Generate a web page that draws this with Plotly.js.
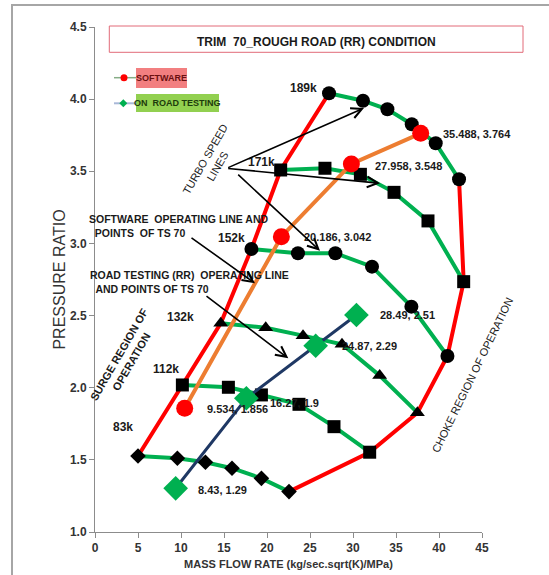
<!DOCTYPE html>
<html>
<head>
<meta charset="utf-8">
<script src="https://cdn.plot.ly/plotly-3.0.1.min.js"></script>
<style>html,body{margin:0;padding:0;background:#fff;}#chart{width:549px;height:575px;}</style>
</head>
<body>
<div id="chart"></div>
<script>
// ---- data ----
const xTickVals = [0, 5, 10, 15, 20, 25, 30, 35, 40, 45];
const yTickVals = [1.0, 1.5, 2.0, 2.5, 3.0, 3.5, 4.0, 4.5];

const speedNames = ["189k", "171k", "152k", "132k", "112k", "83k"];
const x189 = [27.21, 31.16, 34.00, 36.83, 39.62, 42.33];
const y189 = [4.041, 3.989, 3.930, 3.826, 3.694, 3.445];
const x171 = [21.59, 26.74, 30.86, 34.77, 38.72, 42.87];
const y171 = [3.509, 3.521, 3.479, 3.354, 3.156, 2.735];
const x152 = [18.19, 23.60, 27.95, 32.21, 36.79, 40.98];
const y152 = [2.962, 2.932, 2.932, 2.839, 2.562, 2.220];
const x132 = [14.62, 19.85, 24.19, 28.72, 33.10, 37.49];
const y132 = [2.447, 2.416, 2.361, 2.301, 2.084, 1.827];
const x112 = [10.16, 15.51, 19.35, 23.72, 27.79, 31.94];
const y112 = [2.019, 2.003, 1.950, 1.885, 1.730, 1.553];
const x83  = [5.00, 9.58, 12.84, 15.93, 19.35, 22.56];
const y83  = [1.527, 1.511, 1.483, 1.442, 1.372, 1.280];

const softwareX = [10.43, 21.67, 29.81, 37.87];
const softwareY = [1.858, 3.047, 3.551, 3.763];
const softwareLabels = ["9.534, 1.856", "20.186, 3.042", "27.958, 3.548", "35.488, 3.764"];

const roadX = [9.38, 17.60, 25.66, 30.40];
const roadY = [1.303, 1.927, 2.291, 2.504];
const roadLabels = ["8.43, 1.29", "16.27, 1.9", "24.87, 2.29", "28.49, 2.51"];

// ---- helpers (pixel -> paper) for decorations ----
const L = 95, R = 67, T = 27, B = 43, W = 549, H = 575;
const PW = W - L - R, PH = H - T - B;
const PX = p => (p - L) / PW;
const PY = p => (H - B - p) / PH;

const speeds = [
  {x: x189, y: y189, sym: "circle", size: 14},
  {x: x171, y: y171, sym: "square", size: 13},
  {x: x152, y: y152, sym: "circle", size: 14},
  {x: x132, y: y132, sym: "triangle-up", size: 13},
  {x: x112, y: y112, sym: "square", size: 13},
  {x: x83,  y: y83,  sym: "diamond", size: 12}
];

const traces = [];
// surge line through the first point of each speed line
traces.push({x: speeds.map(s => s.x[0]), y: speeds.map(s => s.y[0]), mode: "lines",
  line: {color: "#ff0000", width: 4}, hoverinfo: "skip"});
// choke line through the last point of each speed line
traces.push({x: speeds.map(s => s.x[s.x.length - 1]), y: speeds.map(s => s.y[s.y.length - 1]), mode: "lines",
  line: {color: "#ff0000", width: 4}, hoverinfo: "skip"});
speeds.forEach((s, i) => {
  traces.push({x: s.x, y: s.y, name: speedNames[i], mode: "lines+markers",
    line: {color: "#00b050", width: 4},
    marker: {symbol: s.sym, size: s.size, color: "#000000"}});
});
traces.push({x: softwareX, y: softwareY, name: "SOFTWARE", mode: "lines+markers",
  line: {color: "#ed7d31", width: 4},
  marker: {symbol: "circle", size: 17, color: "#ff0000"}});
traces.push({x: roadX, y: roadY, name: "ON ROAD TESTING", mode: "lines+markers",
  line: {color: "#1f3864", width: 3},
  marker: {symbol: "diamond", size: 19, color: "#00b050"}});

const F = "Liberation Sans, Arial, sans-serif";
const ann = [];
function txt(text, px, py, opts) {
  ann.push(Object.assign({xref: "paper", yref: "paper", x: PX(px), y: PY(py), text: text,
    showarrow: false, xanchor: "center", yanchor: "middle",
    font: {family: F, size: 12, color: "#1a1a1a", weight: "bold"}}, opts || {}));
}
function arrow(tx, ty, hx, hy) {
  ann.push({xref: "paper", yref: "paper", x: PX(hx), y: PY(hy), axref: "pixel", ayref: "pixel",
    ax: tx - hx, ay: ty - hy, text: "", showarrow: true, arrowhead: 5, arrowsize: 1.3,
    arrowwidth: 1.6, arrowcolor: "#000000", standoff: 0});
}

// title and legend
txt("TRIM  70_ROUGH ROAD (RR) CONDITION", 316, 42, {font: {family: F, size: 12, color: "#1a1a1a", weight: "bold"}});
txt("SOFTWARE", 161.5, 78, {font: {family: F, size: 9, color: "#6b1010", weight: "bold"}});
txt("ON  ROAD TESTING", 177.5, 103, {font: {family: F, size: 9, color: "#1d3a0c", weight: "bold"}});

// speed labels
const speedLabelPos = [[303, 88], [261.7, 161.7], [231.7, 238.3], [180, 317.3], [166, 369.3], [123.3, 426.7]];
speedNames.forEach((n, i) => txt(n, speedLabelPos[i][0], speedLabelPos[i][1]));

// data labels
const dl = {family: F, size: 11, color: "#1a1a1a", weight: "bold"};
const swLabelPos = [[205, 409.3], [302.3, 236.7], [372.7, 166], [440.7, 134]];
softwareLabels.forEach((t, i) => txt(t, swLabelPos[i][0], swLabelPos[i][1], {xanchor: "left", font: dl}));
const rdLabelPos = [[196, 490], [268.3, 403.3], [340, 346], [377.7, 315]];
roadLabels.forEach((t, i) => txt(t, rdLabelPos[i][0], rdLabelPos[i][1], {xanchor: "left", font: dl}));

// explanatory texts
txt("TURBO SPEED<br>LINES", 211, 163, {textangle: -60, font: {family: F, size: 11, color: "#1a1a1a"}});
txt("SURGE REGION OF<br>OPERATION", 125, 358, {textangle: -60, font: {family: F, size: 11, color: "#1a1a1a", weight: "bold"}});
txt("CHOKE REGION OF OPERATION", 472.5, 375, {textangle: -64, font: {family: F, size: 11, color: "#1a1a1a"}});
const ex = {family: F, size: 10.5, color: "#1a1a1a", weight: "bold"};
txt("SOFTWARE  OPERATING LINE AND<br>  POINTS  OF TS 70", 87, 226, {xanchor: "left", align: "left", font: ex});
txt("ROAD TESTING (RR)  OPERATING LINE<br>  AND POINTS OF TS 70", 88, 282, {xanchor: "left", align: "left", font: ex});

// arrows
arrow(226.7, 168.3, 364, 108);
arrow(226.7, 168.3, 380, 183.3);
arrow(236.7, 173.3, 320, 250.7);
arrow(190, 236.7, 255, 283.3);
arrow(205, 295, 288.3, 358.3);

const shapes = [
  // outer frame (top and left edges visible)
  {type: "rect", xref: "paper", yref: "paper", x0: PX(12), x1: PX(560), y0: PY(5), y1: PY(590),
    line: {color: "#a6a6a6", width: 2}, layer: "below"},
  // title box
  {type: "rect", xref: "paper", yref: "paper", x0: PX(109.3), x1: PX(523), y0: PY(26), y1: PY(52.3),
    line: {color: "#e26b78", width: 1}, fillcolor: "#ffffff", layer: "below"},
  // legend highlights
  {type: "rect", xref: "paper", yref: "paper", x0: PX(136), x1: PX(187), y0: PY(68), y1: PY(88),
    line: {width: 0}, fillcolor: "#f27f80", layer: "below"},
  {type: "rect", xref: "paper", yref: "paper", x0: PX(136), x1: PX(219), y0: PY(94), y1: PY(112),
    line: {width: 0}, fillcolor: "#92d050", layer: "below"},
  // legend keys
  {type: "line", xref: "paper", yref: "paper", x0: PX(114), x1: PX(136), y0: PY(77.7), y1: PY(77.7),
    line: {color: "#86ad86", width: 1.5}},
  {type: "circle", xref: "paper", yref: "paper", x0: PX(120.5), x1: PX(127.5), y0: PY(74.2), y1: PY(81.2),
    line: {width: 0}, fillcolor: "#ff0000"},
  {type: "line", xref: "paper", yref: "paper", x0: PX(114), x1: PX(136), y0: PY(103.3), y1: PY(103.3),
    line: {color: "#a9b8d8", width: 2}},
  {type: "path", xref: "paper", yref: "paper",
    path: "M" + PX(119.3) + "," + PY(103.3) + " L" + PX(123.3) + "," + PY(99.3) + " L" + PX(127.3) + "," + PY(103.3) + " L" + PX(123.3) + "," + PY(107.3) + " Z",
    line: {width: 0}, fillcolor: "#00b050"}
];

const layout = {
  width: W, height: H,
  margin: {l: L, r: R, t: T, b: B, pad: 0},
  paper_bgcolor: "#ffffff", plot_bgcolor: "#ffffff",
  showlegend: false,
  xaxis: {range: [0, 45], tickvals: xTickVals, ticktext: xTickVals.map(String),
    showgrid: false, zeroline: false, showline: true, linecolor: "#8c8c8c", linewidth: 1,
    ticks: "outside", ticklen: 5, tickcolor: "#8c8c8c",
    tickfont: {family: F, size: 12, color: "#333333", weight: "bold"},
    title: {text: "MASS FLOW RATE (kg/sec.sqrt(K)/MPa)", standoff: 5,
      font: {family: F, size: 11, color: "#333333", weight: "bold"}}},
  yaxis: {range: [1, 4.5], tickvals: yTickVals, ticktext: yTickVals.map(v => v.toFixed(1)),
    showgrid: false, zeroline: false, showline: true, linecolor: "#8c8c8c", linewidth: 1,
    ticks: "outside", ticklen: 5, tickcolor: "#8c8c8c",
    tickfont: {family: F, size: 12, color: "#333333", weight: "bold"},
    title: {text: "PRESSURE RATIO", standoff: 0,
      font: {family: F, size: 16, color: "#333333"}}},
  annotations: ann,
  shapes: shapes
};

Plotly.newPlot("chart", traces, layout, {staticPlot: true, displayModeBar: false});
</script>
</body>
</html>
